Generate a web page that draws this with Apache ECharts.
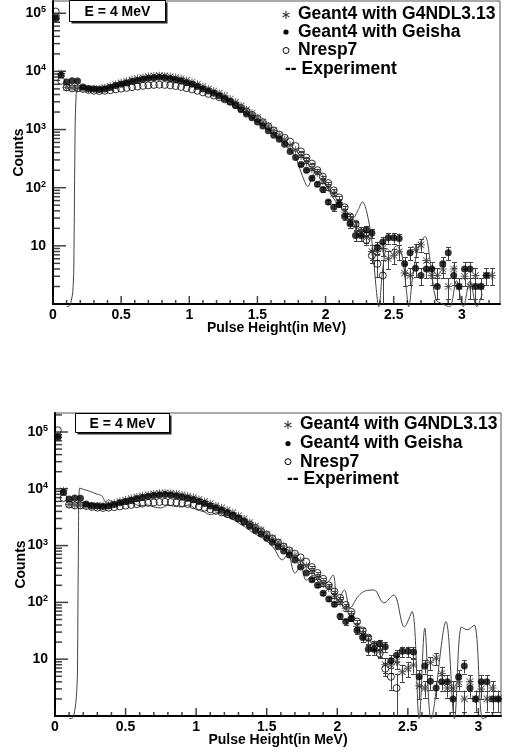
<!DOCTYPE html>
<html><head><meta charset="utf-8">
<script src="https://cdn.jsdelivr.net/npm/echarts@6/dist/echarts.min.js"></script>
<style>html,body{margin:0;padding:0;background:#fff}#c{width:505px;height:754px}</style>
</head><body><div id="c"></div><script>
// ---------- data ----------
const binCenters = [0.02,0.06,0.10,0.14,0.18,0.22,0.26,0.30,0.34,0.38,0.42,0.46,0.50,0.54,0.58,0.62,0.66,0.70,0.74,0.78,
  0.82,0.86,0.90,0.94,0.98,1.02,1.06,1.10,1.14,1.18,1.22,1.26,1.30,1.34,1.38,1.42,1.46,1.50,1.54,1.58,
  1.62,1.66,1.70,1.74,1.78,1.82,1.86,1.90,1.94,1.98,2.02,2.06,2.10,2.14,2.18,2.22,2.26,2.30,2.34,2.38,
  2.42,2.46,2.50,2.54,2.58,2.62,2.66,2.70,2.74,2.78,2.82,2.86,2.90,2.94,2.98,3.02,3.06,3.10,3.14,3.18,3.22];

const g4ndl = [85000,9200,5300,5200,5200,5100,5000,5000,5050,5250,5550,5950,6350,6750,7150,7550,7850,8150,8350,8450,
  8350,8150,7850,7450,7000,6500,6000,5500,5000,4600,4200,3800,3350,2950,2550,2200,1900,1600,1350,1150,
  960,800,670,540,440,350,275,210,180,130,100,79,55,38,28,22,18,14,8,8,
  9,6,6.9,7.9,3.4,3.1,8.7,10.4,5.6,3.1,3.1,4,2,4,2,3,2,3.1,2,3.1,3.1];

const geisha = [81000,8600,6600,6900,6800,5400,5100,5000,4900,5000,5300,5700,6000,6300,6700,7000,7300,7600,7800,7900,
  7800,7500,7200,6800,6400,6000,5500,5000,4600,4200,3800,3400,3000,2600,2200,1850,1600,1350,1150,950,
  800,680,560,420,330,250,200,145,115,93,57,46,52,32,24,15,15,18.7,16.6,9.4,
  11.7,13.8,13.8,13.4,4.9,7.6,4.1,3.1,4,4,2,4.9,7.6,3.1,2,4,4,2,2,3.1,null];

const nresp7 = [107000,6900,5300,5100,5100,5000,4800,4650,4600,4650,4750,4900,5050,5200,5350,5500,5650,5750,5850,5900,
  5850,5750,5600,5400,5150,4900,4650,4350,4100,3850,3600,3300,3000,2650,2350,2050,1780,1550,1330,1130,
  960,820,720,620,520,420,330,260,200,155,120,90,68,46,32,24,17,12.6,6.8,4.9,
  3.1,null,null,null,null,null,null,null,null,null,null,null,null,null,null,null,null,null,null,null,null];

// error bars, for bins from binCenters[errStart] onward
const errStart = 45;
const g4ndlErr = [16,14,12,11,9,8,7,6,5,4,3.6,3.3,3,2.3,2.3,2.4,2,2.1,2.3,1.4,1,2.2,2.5,1.8,1,1,1.2,0.8,1.2,0.8,1,0.8,1,0.8,1,1];
const geishaErr = [14,12,10,9,8,5.5,5.5,5.5,4.5,4,3,3,3.3,3.1,2.3,2.6,2.9,2.9,2.9,1.5,2,1.2,1,1.2,1.2,0.8,1.5,2,1,0.8,1.2,1.2,0.8,0.8,1,null];
const nresp7Err = [10,9,8,7,6,5,4.5,4,3.3,2.8,2.4,2,2.2,1.8,2,2.5,null,null,null,null,null,null,null,null,null,null,null,null,null,null,null,null,null,null,null,null];

// experiment curves
const expTopX = [0.10,0.125,0.148,0.155,0.16,0.17,0.19,0.25,0.35,0.45,0.55,0.65,0.75,0.85,0.95,1.05,1.15,1.25,1.35,1.45,
  1.55,1.65,1.72,1.78,1.83,1.87,1.91,1.95,2.00,2.05,2.10,2.15,2.20,2.24,2.27,2.30,2.34,2.37,2.39,2.42,
  2.45,2.48,2.52,2.56,2.59,2.61,2.64,2.68,2.73,2.77,2.81,2.86,2.91,2.96,3.01,3.06,3.11,3.15];
const expTopY = [0.9,0.95,2,15,300,4000,5300,5100,4900,5500,6400,7200,7800,7600,6700,5600,4500,3500,2500,1700,
  1150,700,500,330,160,105,170,190,120,70,50,40,30,42,57,40,12,2,0.9,4,
  9,8,10,7,2,0.9,3,9,14.5,5,1.2,1,0.9,2.5,0.9,2.5,0.9,1.5];

const expBotX = [0.10,0.13,0.155,0.16,0.165,0.175,0.20,0.25,0.30,0.33,0.36,0.38,0.40,0.45,0.50,0.55,0.60,0.65,0.70,0.75,
  0.80,0.85,0.90,0.95,1.00,1.05,1.10,1.15,1.20,1.25,1.30,1.35,1.40,1.45,1.50,1.55,1.61,1.65,1.70,1.74,
  1.78,1.83,1.87,1.92,1.97,2.00,2.05,2.09,2.15,2.20,2.26,2.33,2.40,2.475,2.53,2.58,2.62,2.665,2.77,2.83,
  2.88,2.92,2.97,3.03,3.06];
const expBotY = [0.9,0.95,3,10,500,10300,9800,9000,8000,7600,5900,6500,5800,5400,5300,5600,5000,5200,4800,4600,
  5100,4900,4800,5200,4300,4000,3500,3800,3300,3000,2500,2100,1700,1450,1200,900,560,700,325,430,
  247,300,230,220,303,103,165,80,130,160,165,98,135,37,69,0.9,35,0.9,46,0.9,
  37,33,40,0.9,0.95];

// axis definitions
const xTickLabels = ['0','0.5','1','1.5','2','2.5','3'];
const xMinorStep = 0.1;
const decadeStarts = [1,10,100,1000,10000,100000];
const minorMultipliers = [2,3,4,5,6,7,8,9];
const legendLabels = ['Geant4 with G4NDL3.13','Geant4 with Geisha','Nresp7','-- Experiment'];
const boxLabel = 'E = 4 MeV';

// ---------- chart ----------
const FONT = '"Liberation Sans", Arial, Helvetica, sans-serif';
const ASTER = 'path://M4.4 0H5.6V10H4.4Z M0 4.4H10V5.6H0Z M1.3 0.5L9.5 8.7L8.7 9.5L0.5 1.3Z M8.7 0.5L9.5 1.3L1.3 9.5L0.5 8.7Z';
const TICK = '#111';

const panels = [
  {grid:{left:53, top:1, width:447, height:303}, xmax:3.28, ymax:162300, expX:expTopX, expY:expTopY},
  {grid:{left:55, top:413, width:446, height:303}, xmax:3.16, ymax:216000, expX:expBotX, expY:expBotY}
];

function xAxisCfg(gi, max) {
  return {
    type:'value', gridIndex:gi, min:0, max:max, interval:0.5,
    name:'Pulse Height(in MeV)', nameLocation:'middle', nameGap:17, nameMoveOverlap:false,
    nameTextStyle:{fontFamily:FONT, fontWeight:'bold', fontSize:14, color:'#000'},
    axisLine:{show:true, onZero:false, lineStyle:{color:'#000', width:2}},
    axisTick:{show:false},
    splitLine:{show:false},
    axisLabel:{margin:4, fontFamily:FONT, fontWeight:'bold', fontSize:14, color:'#000',
      formatter: function (v) { const s = xTickLabels.find(t => Math.abs(parseFloat(t) - v) < 1e-6); return s === undefined ? ' ' : s; }}
  };
}
function yAxisCfg(gi, max) {
  return {
    type:'log', gridIndex:gi, min:1, max:max,
    name:'Counts', nameLocation:'middle', nameGap:27, nameMoveOverlap:false,
    nameTextStyle:{fontFamily:FONT, fontWeight:'bold', fontSize:14, color:'#000'},
    axisLine:{show:true, lineStyle:{color:'#000', width:2}},
    axisTick:{show:false},
    splitLine:{show:false},
    axisLabel:{margin:7,
      formatter: function (v) {
        const l = Math.log10(v), e = Math.round(l);
        if (Math.abs(l - e) > 1e-6 || e < 1) return ' ';
        if (e === 1) return '{b|10}';
        return '{b|10}{s|' + e + '}';
      },
      rich:{
        b:{fontFamily:FONT, fontWeight:'bold', fontSize:14, color:'#000', lineHeight:16},
        s:{fontFamily:FONT, fontWeight:'bold', fontSize:9, color:'#000', verticalAlign:'top', lineHeight:9}
      }}
  };
}

function pts(arr) {
  return binCenters.map((x, i) => [x, arr[i]]).filter(p => p[1] != null);
}
function errPts(vals, errs) {
  const out = [];
  errs.forEach((e, k) => { const i = errStart + k; if (e != null && vals[i] != null) out.push([binCenters[i], vals[i], e]); });
  return out;
}
function errRender(params, api) {
  const x = api.value(0), y = api.value(1), e = api.value(2);
  const ymin = 1;
  const lo = Math.max(y - e, ymin);
  const pHi = api.coord([x, y + e]);
  const pLo = api.coord([x, lo]);
  const hw = 2.5;
  const st = {stroke:'#444', lineWidth:1};
  const xc = Math.round(pHi[0]) + 0.5;
  const ch = [
    {type:'line', shape:{x1:xc, y1:pLo[1], x2:xc, y2:pHi[1]}, style:st},
    {type:'line', shape:{x1:xc-hw, y1:Math.round(pHi[1])+0.5, x2:xc+hw, y2:Math.round(pHi[1])+0.5}, style:st}
  ];
  if (y - e > ymin) ch.push({type:'line', shape:{x1:xc-hw, y1:Math.round(pLo[1])+0.5, x2:xc+hw, y2:Math.round(pLo[1])+0.5}, style:st});
  return {type:'group', children:ch};
}

// ROOT-style tick marks inside the frame, drawn as small bar symbols on the axes' own scales
function tickSeries(gi, P) {
  const ax = {xAxisIndex:gi, yAxisIndex:gi, type:'scatter', symbol:'rect', clip:false, silent:true, z:20,
    itemStyle:{color:TICK}};
  const yMaj = decadeStarts.filter(d => d < P.ymax).map(d => [0, d]);
  const yMin = [];
  decadeStarts.forEach(d => minorMultipliers.forEach(m => { if (m * d < P.ymax) yMin.push([0, m * d]); }));
  const xMaj = xTickLabels.map(t => [parseFloat(t), 1]).filter(p => p[0] <= P.xmax);
  const xMin = [];
  for (let k = 1; k * xMinorStep <= P.xmax + 1e-9; k++) if (k % 5 !== 0) xMin.push([+(k * xMinorStep).toFixed(1), 1]);
  return [
    Object.assign({data:yMaj, symbolSize:[13, 1.5], symbolOffset:[6.5, 0]}, ax),
    Object.assign({data:yMin, symbolSize:[7, 1.5], symbolOffset:[3.5, 0]}, ax),
    Object.assign({data:xMaj, symbolSize:[1.5, 8], symbolOffset:[0, -4]}, ax),
    Object.assign({data:xMin, symbolSize:[1.5, 4], symbolOffset:[0, -2]}, ax)
  ];
}

const series = [];
panels.forEach((P, gi) => {
  const ax = {xAxisIndex:gi, yAxisIndex:gi};
  series.push(Object.assign({type:'line', data:P.expX.map((x, i) => [x, P.expY[i]]), showSymbol:false, smooth:0.35,
    lineStyle:{color:'#444', width:1}, clip:false, z:2, silent:true}, ax));
  [[g4ndl, g4ndlErr], [geisha, geishaErr], [nresp7, nresp7Err]].forEach(([v, e]) => {
    series.push(Object.assign({type:'custom', renderItem:errRender, data:errPts(v, e), encode:{x:0, y:1}, clip:true, z:3, silent:true}, ax));
  });
  series.push(Object.assign({type:'scatter', data:pts(nresp7), symbol:'circle', symbolSize:7, itemStyle:{color:'rgba(0,0,0,0)', borderColor:'#000', borderWidth:1}, z:4, silent:true}, ax));
  series.push(Object.assign({type:'scatter', data:pts(g4ndl), symbol:ASTER, symbolSize:8, itemStyle:{color:'#333'}, z:5, silent:true}, ax));
  series.push(Object.assign({type:'scatter', data:pts(geisha), symbol:'circle', symbolSize:7, itemStyle:{color:'#000'}, z:6, silent:true}, ax));
  tickSeries(gi, P).forEach(s => series.push(s));
});

const txt17 = {fontFamily:FONT, fontWeight:'bold', fontSize:17.5, fill:'#000', verticalAlign:'middle'};
function legendGraphics(mx, tx, ys) {
  return [
    {type:'text', x:mx, y:ys[0] + 2, style:{text:'∗', fontFamily:'"DejaVu Sans"', fontSize:13, fill:'#333', align:'center', verticalAlign:'middle'}},
    {type:'text', x:tx, y:ys[0], style:Object.assign({text:legendLabels[0]}, txt17)},
    {type:'circle', shape:{cx:mx, cy:ys[1], r:2.6}, style:{fill:'#000'}},
    {type:'text', x:tx, y:ys[1], style:Object.assign({text:legendLabels[1]}, txt17)},
    {type:'circle', shape:{cx:mx, cy:ys[2], r:3}, style:{fill:'#fff', stroke:'#000', lineWidth:1}},
    {type:'text', x:tx, y:ys[2], style:Object.assign({text:legendLabels[2]}, txt17)},
    {type:'text', x:mx - 1, y:ys[3], style:Object.assign({text:legendLabels[3]}, txt17)}
  ];
}
function boxGraphics(x, y, w, h) {
  return [
    {type:'rect', shape:{x:x + 2, y:y + 2, width:w, height:h}, style:{fill:'#222'}},
    {type:'rect', shape:{x:x, y:y, width:w, height:h}, style:{fill:'#fff', stroke:'#000', lineWidth:1}},
    {type:'text', x:x + w / 2, y:y + h / 2 + 1, style:{text:boxLabel, fontFamily:FONT, fontWeight:'bold', fontSize:14, fill:'#000', align:'center', verticalAlign:'middle'}}
  ];
}

const chart = echarts.init(document.getElementById('c'), null, {renderer:'canvas'});
chart.setOption({
  animation:false,
  grid: panels.map(P => Object.assign({show:true, borderColor:'#555', outerBoundsMode:'none'}, P.grid)),
  xAxis: panels.map((P, gi) => xAxisCfg(gi, P.xmax)),
  yAxis: panels.map((P, gi) => yAxisCfg(gi, P.ymax)),
  series: series,
  graphic: [].concat(
    boxGraphics(69.5, 0.5, 96, 21),
    boxGraphics(75.5, 413.5, 94, 19),
    legendGraphics(286, 298, [14, 32, 50.5, 68.7]),
    legendGraphics(288, 300, [424, 443.5, 461.7, 479.2])
  )
});
</script></body></html>
